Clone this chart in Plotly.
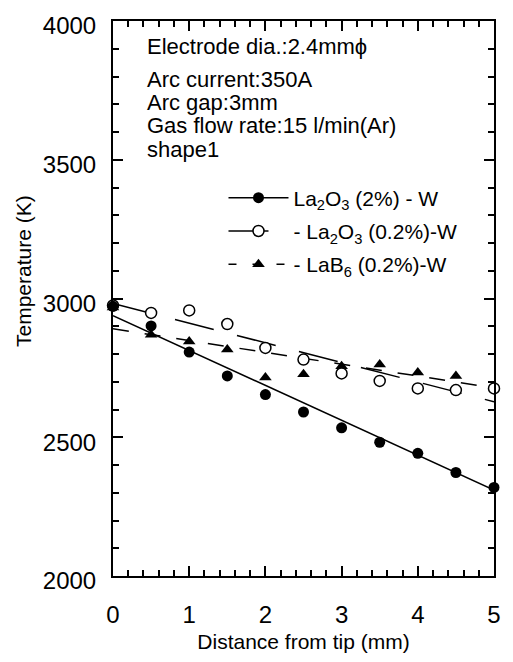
import plotly.graph_objects as go

# ---- data ----
distance = [0, 0.5, 1, 1.5, 2, 2.5, 3, 3.5, 4, 4.5, 5]
la2o3_2 = [2972, 2901, 2807, 2721, 2654, 2591, 2534, 2482, 2442, 2373, 2319]
la2o3_02 = [2975, 2948, 2957, 2908, 2822, 2780, 2730, 2703, 2676, 2670, 2676]
lab6_02 = [2968, 2869, 2845, 2816, 2715, 2727, 2756, 2762, 2733, 2721, 2683]

fit_x = [0, 5]
fit_la2o3_2 = [2938, 2310]
fit_la2o3_02 = [2982, 2628]
fit_lab6_02 = [2891, 2678]

annotation_lines = [
    "Electrode dia.:2.4mm\u03d5",
    "Arc current:350A",
    "Arc gap:3mm",
    "Gas flow rate:15 l/min(Ar)",
    "shape1",
]
annotation_y = [0.954, 0.894, 0.854, 0.812, 0.768]
legend_names = [
    "La<sub>2</sub>O<sub>3</sub> (2%) - W",
    "- La<sub>2</sub>O<sub>3</sub> (0.2%)-W",
    "- LaB<sub>6</sub> (0.2%)-W",
]
x_title = "Distance from tip (mm)"
y_title = "Temperature (K)"

FONT = "Liberation Sans, Arial, sans-serif"
fig = go.Figure()

# fit lines
fig.add_trace(go.Scatter(x=fit_x, y=fit_la2o3_02, mode="lines",
                         line=dict(color="black", width=1.5, dash="40px,24px"),
                         showlegend=False))
fig.add_trace(go.Scatter(x=fit_x, y=fit_lab6_02, mode="lines",
                         line=dict(color="black", width=1.5, dash="16px,16px"),
                         showlegend=False))
fig.add_trace(go.Scatter(x=fit_x, y=fit_la2o3_2, mode="lines",
                         line=dict(color="black", width=1.5),
                         showlegend=False))

# data markers
fig.add_trace(go.Scatter(x=distance, y=lab6_02, mode="markers", cliponaxis=False,
                         marker=dict(symbol="triangle-up", size=11, color="black"),
                         showlegend=False))
fig.add_trace(go.Scatter(x=distance, y=la2o3_02, mode="markers", cliponaxis=False,
                         marker=dict(symbol="circle", size=11, color="white",
                                     line=dict(color="black", width=1.5)),
                         showlegend=False))
fig.add_trace(go.Scatter(x=distance, y=la2o3_2, mode="markers", cliponaxis=False,
                         marker=dict(symbol="circle", size=11, color="black"),
                         showlegend=False))

# legend entries
fig.add_trace(go.Scatter(x=[None], y=[None], mode="lines+markers", name=legend_names[0],
                         legendgroup="a",
                         line=dict(color="black", width=1.5),
                         marker=dict(symbol="circle", size=11, color="black")))
fig.add_trace(go.Scatter(x=[None], y=[None], mode="lines+markers", name=legend_names[1],
                         legendgroup="b",
                         line=dict(color="black", width=1.5, dash="40px,24px"),
                         marker=dict(symbol="circle", size=11, color="white",
                                     line=dict(color="black", width=1.5))))
fig.add_trace(go.Scatter(x=[None], y=[None], mode="lines+markers", name=legend_names[2],
                         legendgroup="c",
                         line=dict(color="black", width=1.5, dash="8px,16px"),
                         marker=dict(symbol="triangle-up", size=11, color="black")))

for t, yy in zip(annotation_lines, annotation_y):
    fig.add_annotation(text=t, xref="paper", yref="paper", x=0.083, y=yy,
                       xanchor="left", yanchor="middle", showarrow=False,
                       font=dict(family=FONT, size=22, color="black"))

fig.add_annotation(text=y_title, xref="paper", yref="paper", x=-0.233, y=0.55,
                   textangle=-90, xanchor="center", yanchor="middle", showarrow=False,
                   font=dict(family=FONT, size=21, color="black"))

fig.update_layout(
    width=513, height=662,
    margin=dict(l=113, r=14, t=16, b=82),
    paper_bgcolor="white", plot_bgcolor="white",
    font=dict(family=FONT, color="black"),
    showlegend=True,
    legend=dict(x=0.29, y=0.718, xanchor="left", yanchor="top",
                bgcolor="rgba(0,0,0,0)", font=dict(family=FONT, size=21),
                traceorder="grouped", tracegroupgap=3, itemwidth=60),
    xaxis=dict(range=[0, 5], dtick=1, tick0=0, showline=True, linewidth=2,
               linecolor="black", mirror="ticks", ticks="inside", ticklen=10,
               tickwidth=1.5, tickcolor="black", showgrid=False, zeroline=False,
               tickfont=dict(size=24), ticklabelstandoff=16,
               minor=dict(dtick=0.2, ticks="inside", ticklen=6, tickwidth=1.5,
                          tickcolor="black", showgrid=False),
               title=dict(text=x_title, font=dict(size=21), standoff=8)),
    yaxis=dict(range=[2000, 4000], dtick=500, tick0=2000, showline=True, linewidth=2,
               linecolor="black", mirror="ticks", ticks="inside", ticklen=10,
               tickwidth=1.5, tickcolor="black", showgrid=False, zeroline=False,
               tickfont=dict(size=24), ticklabelstandoff=10, ticklabelshift=5,
               minor=dict(dtick=100, ticks="inside", ticklen=6, tickwidth=1.5,
                          tickcolor="black", showgrid=False)),
)

fig.write_html("out.html")
